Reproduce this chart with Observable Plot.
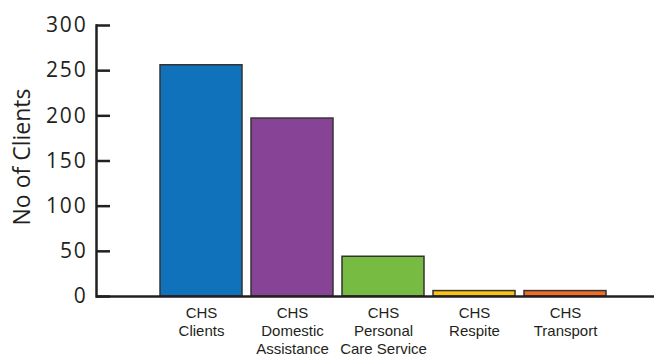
<!DOCTYPE html>
<html><head><meta charset="utf-8">
<script src="https://cdn.jsdelivr.net/npm/d3@7"></script>
<script src="https://cdn.jsdelivr.net/npm/@observablehq/plot@0.6"></script>
<style>
body{margin:0;background:#fff}
g[aria-label="y-axis tick label"] text{letter-spacing:1.8px}
</style>
</head><body><div id="chart"></div>
<script>
const categories = ["CHS Clients", "CHS Domestic Assistance", "CHS Personal Care Service", "CHS Respite", "CHS Transport"];
const tickLabels = ["CHS\nClients", "CHS\nDomestic\nAssistance", "CHS\nPersonal\nCare Service", "CHS\nRespite", "CHS\nTransport"];
const clientCounts = [256, 197, 44, 6, 6];
const barColors = ["#1172bc", "#874497", "#77bb43", "#fdc30f", "#f26e22"];
const yTicks = [0, 50, 100, 150, 200, 250, 300];
const yTitle = "No of Clients";

const data = categories.map((c, i) => ({category: c, value: clientCounts[i], color: barColors[i]}));

const chart = Plot.plot({
  width: 656, height: 357,
  marginTop: 25, marginBottom: 61, marginLeft: 96, marginRight: 2,
  style: {fontFamily: "Liberation Sans, Arial, sans-serif", background: "#fff"},
  x: {domain: categories, range: [149, 617], padding: 0.1, label: null},
  y: {domain: [0, 300], label: null},
  color: {type: "identity"},
  marks: [
    Plot.barY(data, {x: "category", y: "value", fill: "color", stroke: "#333", strokeWidth: 1.5}),
    Plot.frame({anchor: "left", stroke: "#231f20", strokeWidth: 2.5}),
    Plot.ruleY([0], {stroke: "#231f20", strokeWidth: 2.5}),
    Plot.axisY(yTicks, {tickSize: -14, tickPadding: 23, strokeWidth: 2.5, stroke: "#231f20", fill: "#231f20",
      fontSize: 21, fontFamily: "Open Sans, sans-serif", label: null}),
    Plot.text([yTitle], {frameAnchor: "left", rotate: -90, dx: -74, dy: -4, fontSize: 23,
      fontFamily: "Open Sans, sans-serif", fill: "#231f20", textAnchor: "middle", lineAnchor: "middle"}),
    Plot.axisX({tickSize: 0, tickPadding: 8, fontSize: 15, lineHeight: 1.23, fill: "#231f20",
      tickFormat: d => tickLabels[categories.indexOf(d)], label: null})
  ]
});
document.getElementById("chart").appendChild(chart);
</script>
</body></html>
